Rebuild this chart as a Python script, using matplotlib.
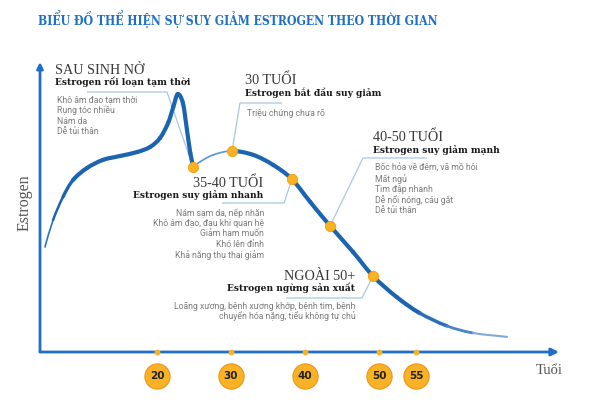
import numpy as np
import matplotlib
matplotlib.use('Agg')
import matplotlib.pyplot as plt
from matplotlib.collections import PathCollection
from matplotlib.path import Path

# ~~~ data (age in years, estrogen level arbitrary) ~~~
curve_age = [4.86, 5.95, 7.3, 8.65, 10.54, 12.7, 15.0, 17.3, 19.05, 20.4, 21.5,
             22.2, 22.8, 23.5, 24.05, 24.5, 24.9,
             25.8, 27.6, 30.1,
             33.0, 35.7, 38.2, 40.7, 43.4, 46.5, 49.2, 52.4, 55.5, 59.2, 62.7, 67.3]
curve_level = [37.5, 47.1, 55.4, 61.4, 65.7, 68.6, 70.0, 71.4, 73.2, 76.4, 81.8,
               87.5, 92.1, 88.9, 79.3, 71.1, 66.1,
               67.9, 70.4, 71.8,
               70.4, 66.8, 61.8, 53.6, 45.0, 35.7, 27.1, 19.6, 13.9, 9.3, 6.8, 5.4]
# index of the cusp (after the postpartum peak) and end of the thin stretch
cusp, thin_end = 16, 19

marker_age = [24.9, 30.1, 38.2, 43.4, 49.2]
marker_level = [66.1, 71.8, 61.8, 45.0, 27.1]

tick_ages = [20, 30, 40, 50, 55]

title = 'BIỂU ĐỒ THỂ HIỆN SỰ SUY GIẢM ESTROGEN THEO THỜI GIAN'
stages = ['SAU SINH NỞ', '30 TUỔI', '35-40 TUỔI', '40-50 TUỔI', 'NGOÀI 50+']
stage_sub = ['Estrogen rối loạn tạm thời', 'Estrogen bắt đầu suy giảm',
             'Estrogen suy giảm nhanh', 'Estrogen suy giảm mạnh',
             'Estrogen ngừng sản xuất']
stage_notes = [
    ['Khô âm đạo tạm thời', 'Rụng tóc nhiều', 'Nám da', 'Dễ tủi thân'],
    ['Triệu chứng chưa rõ'],
    ['Nám sạm da, nếp nhăn', 'Khô âm đạo, đau khi quan hệ', 'Giảm ham muốn',
     'Khó lên đỉnh', 'Khả năng thụ thai giảm'],
    ['Bốc hỏa về đêm, vã mồ hôi', 'Mất ngủ', 'Tim đập nhanh',
     'Dễ nổi nóng, cáu gắt', 'Dễ tủi thân'],
    ['Loãng xương, bệnh xương khớp, bệnh tim, bệnh',
     'chuyển hóa nặng, tiểu không tự chủ'],
]

W, H = 600, 400
blue = '#1b64b0'
axis_blue = '#1f6fc7'
lead_blue = '#a8c6e6'
orange = '#f9b125'

fig = plt.figure(figsize=(6, 4), dpi=100)
fig.patch.set_facecolor('white')
ax = fig.add_axes([0, 0, 1, 1])
# pixel -> data mapping: age 20 at px 157, 7.4 px/yr ; level 0 at py 352, 2.8 px/unit
ax.set_xlim(20 - 157 / 7.4, 20 + (W - 157) / 7.4)
ax.set_ylim(-(H - 352) / 2.8, 352 / 2.8)
ax.axis('off')


def px(x, y):
    """pixel (from top-left) -> data coords"""
    return 20 + (x - 157) / 7.4, (352 - y) / 2.8


def fp(x, y):
    return x / W, 1 - y / H


def bezier_pieces(p):
    """Catmull-Rom through the points, one cubic Path per segment"""
    p = np.asarray(p)
    ext = np.vstack([p[0], p, p[-1]])
    out = []
    for i in range(len(p) - 1):
        a, b, c, d = ext[i], ext[i + 1], ext[i + 2], ext[i + 3]
        c1 = b + (c - a) / 6
        c2 = c - (d - b) / 6
        out.append(Path([b, c1, c2, c], [Path.MOVETO, Path.CURVE4,
                                         Path.CURVE4, Path.CURVE4]))
    return out


# ~~~ axes with arrows ~~~
x0, y0 = px(40, 352)
ax.annotate('', xy=px(559, 352), xytext=(x0, y0),
            arrowprops=dict(arrowstyle='-|>', color=axis_blue, lw=2,
                            mutation_scale=11, shrinkA=0, shrinkB=0))
ax.annotate('', xy=px(40, 62), xytext=(x0, y0),
            arrowprops=dict(arrowstyle='-|>', color=axis_blue, lw=2,
                            mutation_scale=9, shrinkA=0, shrinkB=0))

# ~~~ leader lines (pixel paths) ~~~
leaders = [
    [(87, 92), (167, 92), (193, 167)],
    [(282, 103), (240, 103), (232, 151)],
    [(222, 203), (284, 203), (292, 179)],
    [(427, 158), (363, 158), (330, 226)],
    [(286, 298), (362, 298), (373, 276)],
]
for path in leaders:
    pts = np.array([px(*p) for p in path])
    ax.plot(pts[:, 0], pts[:, 1], color=lead_blue, lw=0.9, zorder=2,
            solid_capstyle='butt')

# ~~~ the curve: two smooth pieces split at the cusp, tapered widths ~~~
pts = np.column_stack([curve_age, curve_level])
pieces = bezier_pieces(pts[:cusp + 1]) + bezier_pieces(pts[cusp:])
n = len(pieces)
tail = ['#1b64b0', '#2a6fbb', '#4585c8', '#7eaadb']
widths, colors = [], []
for i in range(n):
    if cusp <= i < thin_end:
        widths.append(1.2)
        colors.append('#5a95d4')
    elif i < 3:
        widths.append(1.2 + 0.6 * i)
        colors.append('#2f73bd' if i == 0 else blue)
    elif i >= n - 4:
        k = i - (n - 4)
        widths.append(3.0 - 0.5 * k)
        colors.append(tail[k])
    else:
        widths.append(3.0)
        colors.append(blue)
pc = PathCollection(pieces, facecolors='none', edgecolors=colors,
                    linewidths=widths, capstyle='round', joinstyle='round',
                    transform=ax.transData, zorder=3)
ax.add_collection(pc)

ax.scatter(marker_age, marker_level, s=55, color=orange, edgecolor='#f6a000',
           linewidth=0.6, zorder=5)

# ~~~ ticks on x axis + round age badges ~~~
ax.scatter(tick_ages, [0] * len(tick_ages), s=10, color=orange, zorder=5)
badge_y = -(376 - 352) / 2.8
ax.scatter(tick_ages, [badge_y] * len(tick_ages), s=330, color=orange,
           edgecolor='#f0960f', linewidth=0.8, zorder=5)
for a in tick_ages:
    ax.text(a, badge_y, str(a), ha='center', va='center', fontsize=7.5,
            fontweight='bold', family='DejaVu Sans', color='#222222', zorder=6)

# ~~~ texts ~~~
fig.text(*fp(38, 19), title, ha='left', va='center', fontsize=8.7,
         fontweight='bold', family='DejaVu Serif', fontstretch='condensed',
         color=axis_blue)
fig.text(*fp(25, 203), 'Estrogen', rotation=90, ha='center', va='center',
         fontsize=11.5, family='Liberation Serif', color='#555555')
fig.text(*fp(536, 370), 'Tuổi', ha='left', va='center',
         fontsize=10.5, family='Liberation Serif', color='#555555')

# (x, y_head, y_sub, y_notes0, note_step, align)
blocks = [
    (55, 70, 82, 100, 10.6, 'left'),
    (245, 80, 93, 113, 10.6, 'left'),
    (263, 183, 195, 213, 10.5, 'right'),
    (373, 137, 150, 168, 10.7, 'left'),
    (355, 276, 288, 306, 10.5, 'right'),
]
for i, (bx, yh, ys, yn, step, ha) in enumerate(blocks):
    fig.text(*fp(bx, yh), stages[i], ha=ha, va='center', fontsize=10.2,
             family='Liberation Serif', color='#3a3a3a')
    fig.text(*fp(bx, ys), stage_sub[i], ha=ha, va='center', fontsize=6.6,
             fontweight='bold', family='DejaVu Serif', color='#1a1a1a')
    nx = bx + 2 if ha == 'left' else bx + 1
    for j, note in enumerate(stage_notes[i]):
        fig.text(*fp(nx, yn + j * step), note, ha=ha, va='center',
                 fontsize=6.2, family='Roboto', color='#7a7a7a')

fig.savefig('out.png', dpi=100, facecolor='white')
